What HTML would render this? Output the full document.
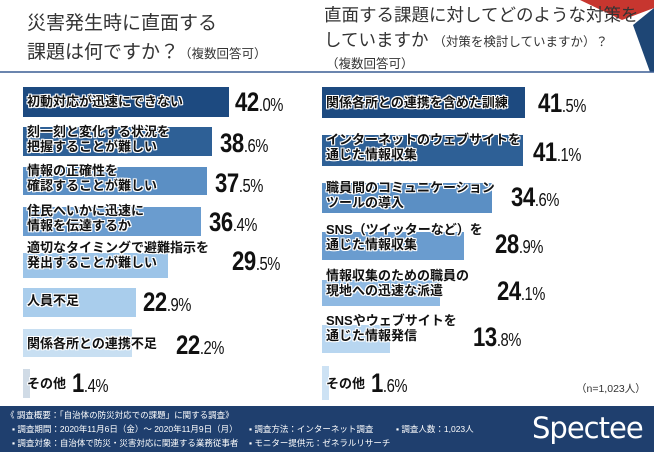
<!DOCTYPE html>
<html><head><meta charset="utf-8"><style>
*{margin:0;padding:0;box-sizing:border-box}
body{width:654px;height:452px;background:#fff;position:relative;overflow:hidden;font-family:"Liberation Sans","Noto Sans CJK JP",sans-serif;color:#222}
.a{position:absolute;white-space:nowrap}
.t{font-size:19px;color:#333;line-height:29px}
.t small{font-size:12.5px}
.bar{position:absolute}
.lb{position:absolute;font-size:13px;font-weight:bold;line-height:15px;color:#111;text-shadow:1px 0 0 #fff,-1px 0 0 #fff,0 1px 0 #fff,0 -1px 0 #fff,1px 1px 0 #fff,-1px -1px 0 #fff,1px -1px 0 #fff,-1px 1px 0 #fff;white-space:nowrap}
.v{position:absolute;font-weight:bold;font-size:27px;line-height:30px;color:#111;white-space:nowrap;letter-spacing:-0.5px;transform:scaleX(0.82);transform-origin:left}
.v span{font-size:18px;font-weight:normal}
.f{font-size:8.5px;color:#fff;position:absolute;white-space:nowrap}
</style></head><body>
<svg class="a" style="left:0;top:0" width="654" height="80">
<polygon points="580,0 654,0 654,8 622,20" fill="#c7362f"/>
<polygon points="633,25 654,8 654,72 650,72" fill="#1e4675"/>
<line x1="0" y1="72" x2="654" y2="72" stroke="#3a5d94" stroke-width="1.5"/>
</svg>
<div class="a t" style="left:27px;top:9px">災害発生時に直面する<br>課題は何ですか？<small>（複数回答可）</small></div>
<div class="a t" style="left:324px;top:3px;font-size:17.5px;line-height:25px">直面する課題に対してどのような対策を<br>していますか <small>（対策を検討していますか）？</small></div>
<div class="a" style="left:326px;top:53px;font-size:12.5px;color:#333">（複数回答可）</div>

<!-- left -->
<div class="bar" style="left:23px;top:87px;width:206px;height:30px;background:#1d4a80"></div>
<div class="lb" style="left:27px;top:94px">初動対応が迅速にできない</div>
<div class="v" style="left:235px;top:87px">42<span>.0%</span></div>

<div class="bar" style="left:23px;top:127px;width:189px;height:29px;background:#2e6096"></div>
<div class="lb" style="left:27px;top:124px">刻一刻と変化する状況を<br>把握することが難しい</div>
<div class="v" style="left:220px;top:128px">38<span>.6%</span></div>

<div class="bar" style="left:23px;top:167px;width:184px;height:28px;background:#5b8fc4"></div>
<div class="lb" style="left:27px;top:163px">情報の正確性を<br>確認することが難しい</div>
<div class="v" style="left:215px;top:168px">37<span>.5%</span></div>

<div class="bar" style="left:23px;top:207px;width:178px;height:29px;background:#6a9ccf"></div>
<div class="lb" style="left:27px;top:203px">住民へいかに迅速に<br>情報を伝達するか</div>
<div class="v" style="left:209px;top:207px">36<span>.4%</span></div>

<div class="bar" style="left:23px;top:253px;width:145px;height:25px;background:#9cc4e8"></div>
<div class="lb" style="left:27px;top:240px">適切なタイミングで避難指示を<br>発出することが難しい</div>
<div class="v" style="left:232px;top:246px">29<span>.5%</span></div>

<div class="bar" style="left:23px;top:288px;width:113px;height:29px;background:#a9cdec"></div>
<div class="lb" style="left:27px;top:293px">人員不足</div>
<div class="v" style="left:143px;top:287px">22<span>.9%</span></div>

<div class="bar" style="left:23px;top:329px;width:109px;height:28px;background:#c8dff2"></div>
<div class="lb" style="left:27px;top:336px">関係各所との連携不足</div>
<div class="v" style="left:176px;top:330px">22<span>.2%</span></div>

<div class="bar" style="left:23px;top:369px;width:7px;height:29px;background:#d0dbe6"></div>
<div class="lb" style="left:27px;top:376px">その他</div>
<div class="v" style="left:72px;top:368px">1<span>.4%</span></div>

<!-- right -->
<div class="bar" style="left:322px;top:87px;width:203px;height:31px;background:#1d4a80"></div>
<div class="lb" style="left:326px;top:95px">関係各所との連携を含めた訓練</div>
<div class="v" style="left:538px;top:88px">41<span>.5%</span></div>

<div class="bar" style="left:322px;top:135px;width:201px;height:31px;background:#2e6096"></div>
<div class="lb" style="left:326px;top:132px">インターネットのウェブサイトを<br>通じた情報収集</div>
<div class="v" style="left:533px;top:137px">41<span>.1%</span></div>

<div class="bar" style="left:322px;top:183px;width:170px;height:30px;background:#5b8fc4"></div>
<div class="lb" style="left:326px;top:180px">職員間のコミュニケーション<br>ツールの導入</div>
<div class="v" style="left:511px;top:182px">34<span>.6%</span></div>

<div class="bar" style="left:322px;top:232px;width:142px;height:28px;background:#6a9ccf"></div>
<div class="lb" style="left:326px;top:222px">SNS（ツイッターなど）を<br>通じた情報収集</div>
<div class="v" style="left:495px;top:229px">28<span>.9%</span></div>

<div class="bar" style="left:322px;top:280px;width:118px;height:26px;background:#8fb9e2"></div>
<div class="lb" style="left:326px;top:268px">情報収集のための職員の<br>現地への迅速な派遣</div>
<div class="v" style="left:497px;top:276px">24<span>.1%</span></div>

<div class="bar" style="left:322px;top:325px;width:68px;height:28px;background:#b8d6f0"></div>
<div class="lb" style="left:326px;top:313px">SNSやウェブサイトを<br>通じた情報発信</div>
<div class="v" style="left:473px;top:322px">13<span>.8%</span></div>

<div class="bar" style="left:322px;top:366px;width:7px;height:34px;background:#cde2f4"></div>
<div class="lb" style="left:326px;top:376px">その他</div>
<div class="v" style="left:371px;top:368px">1<span>.6%</span></div>
<div class="a" style="left:576px;top:381px;font-size:10.5px;color:#333">（n=1,023人）</div>

<!-- footer -->
<div class="a" style="left:0;top:406px;width:654px;height:46px;background:#1f3f6e"></div>
<div class="f" style="left:6px;top:409px">《 調査概要：「自治体の防災対応での課題」に関する調査》</div>
<div class="f" style="left:12px;top:423px">▪ 調査期間：2020年11月6日（金）～ 2020年11月9日（月）</div>
<div class="f" style="left:249px;top:423px">▪ 調査方法：インターネット調査</div>
<div class="f" style="left:396px;top:423px">▪ 調査人数：1,023人</div>
<div class="f" style="left:12px;top:437px">▪ 調査対象：自治体で防災・災害対応に関連する業務従事者</div>
<div class="f" style="left:249px;top:437px">▪ モニター提供元：ゼネラルリサーチ</div>
<div class="a" style="left:532px;top:411px;font-size:29px;color:#fff;font-family:'DejaVu Sans',sans-serif;letter-spacing:-1px">Spectee</div>
</body></html>
